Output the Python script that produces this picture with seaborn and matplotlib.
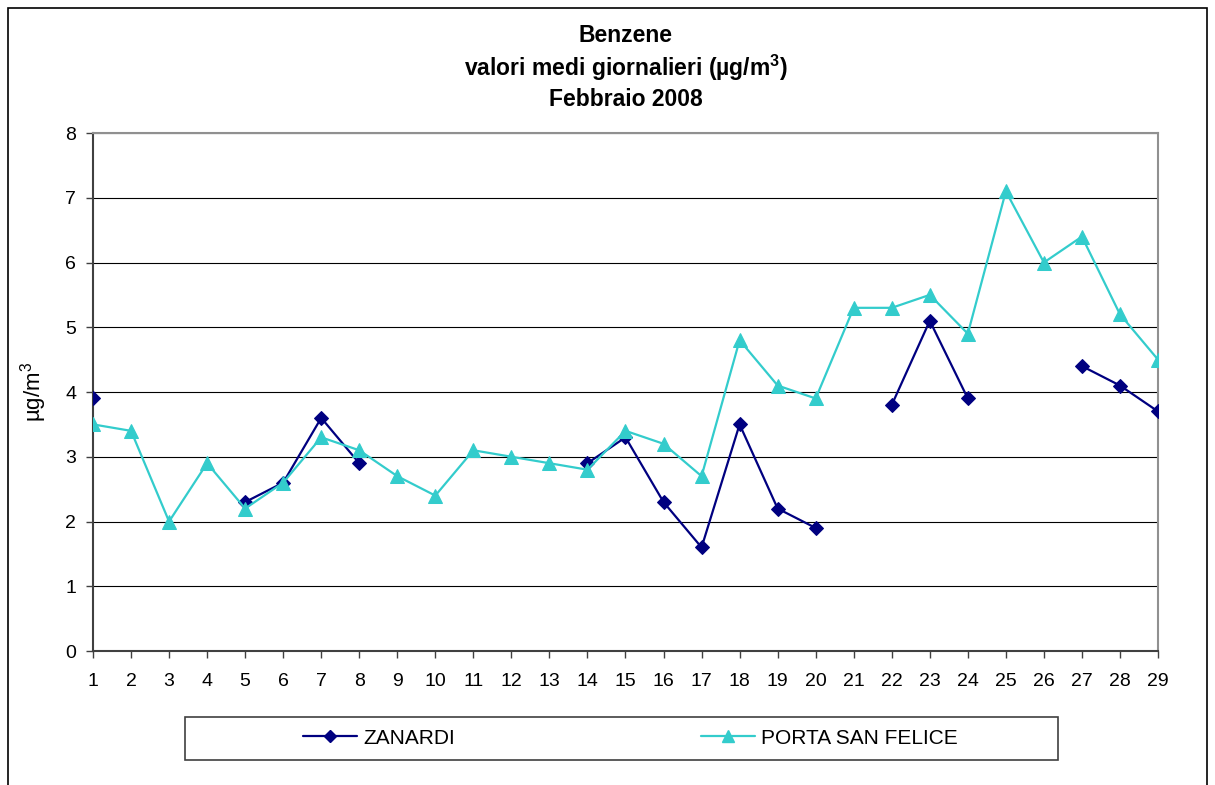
import matplotlib
matplotlib.use('Agg')
import matplotlib.pyplot as plt
import numpy as np
import pandas as pd
import seaborn as sns
from matplotlib.patches import Rectangle

# daily mean benzene values, February 2008 (NaN = no data)
giorni = list(range(1, 30))
zanardi = [3.9, np.nan, np.nan, np.nan, 2.3, 2.6, 3.6, 2.9, np.nan, np.nan,
           np.nan, np.nan, np.nan, 2.9, 3.3, 2.3, 1.6, 3.5, 2.2, 1.9,
           np.nan, 3.8, 5.1, 3.9, np.nan, np.nan, 4.4, 4.1, 3.7]
porta_san_felice = [3.5, 3.4, 2.0, 2.9, 2.2, 2.6, 3.3, 3.1, 2.7, 2.4,
                    3.1, 3.0, 2.9, 2.8, 3.4, 3.2, 2.7, 4.8, 4.1, 3.9,
                    5.3, 5.3, 5.5, 4.9, 7.1, 6.0, 6.4, 5.2, 4.5]
stazioni = ['ZANARDI', 'PORTA SAN FELICE']
colori = {'ZANARDI': '#000080', 'PORTA SAN FELICE': '#33CCCC'}
marcatori = {'ZANARDI': 'D', 'PORTA SAN FELICE': '^'}
dim_marcatori = {'ZANARDI': 7, 'PORTA SAN FELICE': 10}


def to_long(name, values):
    # split into contiguous runs so gaps in the data stay as gaps in the line
    df = pd.DataFrame({'giorno': giorni, 'valore': values})
    df['stazione'] = name
    seg = df['valore'].isna().cumsum()
    df['seg'] = name + '_' + seg.astype(str)
    return df.dropna()


data = pd.concat([to_long('ZANARDI', zanardi),
                  to_long('PORTA SAN FELICE', porta_san_felice)])

sns.set_theme(style='white')
plt.rcParams['font.family'] = ['Liberation Sans', 'DejaVu Sans']
plt.rcParams['text.color'] = 'black'
plt.rcParams['axes.labelcolor'] = 'black'
plt.rcParams['mathtext.fontset'] = 'custom'
plt.rcParams['mathtext.rm'] = 'Liberation Sans'
plt.rcParams['mathtext.bf'] = 'Liberation Sans:bold'

W, H = 1215, 785
fig = plt.figure(figsize=(W / 100, H / 100), dpi=100)
ax = fig.add_axes([93 / W, 1 - 651 / H, (1158 - 93) / W, (651 - 133) / H])

for st in stazioni:
    sub = data[data['stazione'] == st]
    sns.lineplot(data=sub, x='giorno', y='valore', units='seg', estimator=None,
                 color=colori[st], marker=marcatori[st], markersize=dim_marcatori[st],
                 markeredgecolor=colori[st], linewidth=1.6, ax=ax, zorder=3)

ax.set_xlim(1, 29)
ax.set_ylim(0, 8)
ax.set_xticks(giorni)
ax.set_xticklabels([str(g) for g in giorni])
ax.set_yticks(range(0, 9))
ax.yaxis.grid(True, color='black', linewidth=0.8)
ax.set_axisbelow(True)
ax.tick_params(axis='both', direction='out', length=5, width=1, color='#404040',
               labelsize=14, labelcolor='black', left=True, bottom=True)
ax.tick_params(axis='x', pad=11)
ax.tick_params(axis='y', pad=7)
for side in ['left', 'bottom']:
    ax.spines[side].set_color('#404040')
    ax.spines[side].set_linewidth(1.5)
for side in ['top', 'right']:
    ax.spines[side].set_color('#909090')
    ax.spines[side].set_linewidth(1.5)
ax.set_xlabel('')
ax.set_ylabel('µg/m$^3$', fontsize=16, labelpad=12, color='black')

xc = (93 + 1158) / 2 / W
for testo, y in [('Benzene', 35), ('valori medi giornalieri (µg/m$^{\\mathbf{3}}$)', 68),
                 ('Febbraio 2008', 100)]:
    fig.text(xc, 1 - y / H, testo, ha='center', va='center', color='black',
             fontsize=16.5, fontweight='bold')

# legend box drawn separately, entries placed as in the original
fig.patches.append(Rectangle((185 / W, 1 - 760 / H), (1058 - 185) / W, 43 / H,
                             transform=fig.transFigure, fill=False,
                             edgecolor='#404040', linewidth=1.2))
handles = [plt.Line2D([], [], color=colori[st], marker=marcatori[st],
                      markersize=dim_marcatori[st] - 1, linewidth=1.6)
           for st in stazioni]
fig.legend(handles, stazioni, ncol=2, loc='center left',
           bbox_to_anchor=(303 / W, 1 - 738 / H), frameon=False, fontsize=15,
           handlelength=2.6, handletextpad=0.3, borderpad=0, borderaxespad=0,
           columnspacing=11.8, labelcolor='black')

fig.patches.append(Rectangle((8 / W, -0.05), (1207 - 8) / W, 1 - 8 / H + 0.05,
                             transform=fig.transFigure, fill=False,
                             edgecolor='black', linewidth=1.2))

fig.savefig('out.png', dpi=100)
